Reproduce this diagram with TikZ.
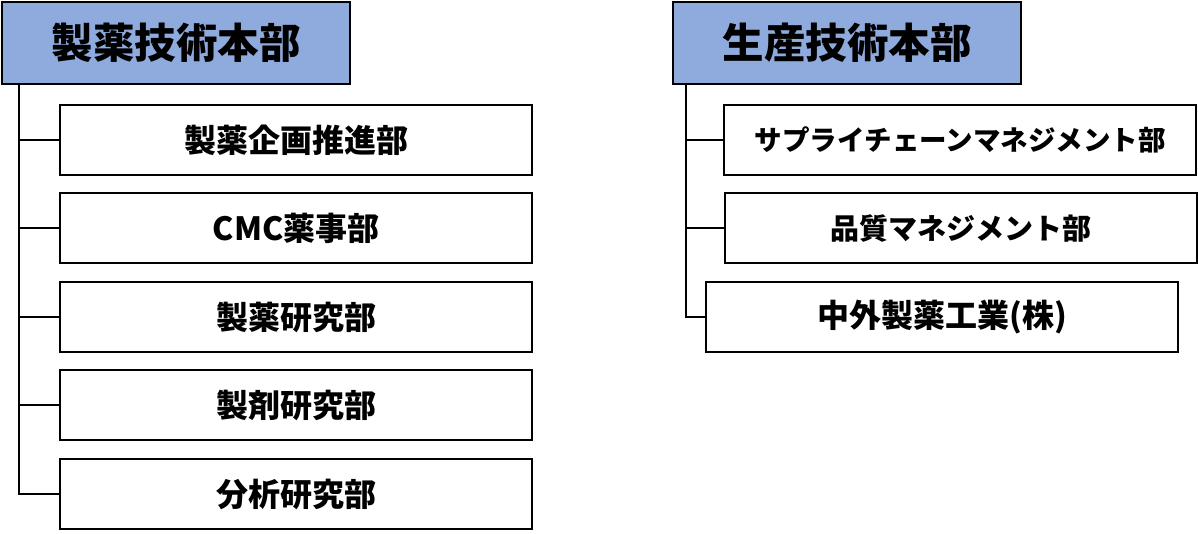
\documentclass[tikz,border=0pt]{standalone}
\usepackage{fontspec}
\newfontfamily\jp{Noto Sans CJK JP}[BoldFont={Noto Sans CJK JP Black}]
\definecolor{headblue}{HTML}{8FAADC}
\begin{document}
\begin{tikzpicture}[x=1pt,y=-1pt,
  box/.style={draw=black, line width=2.4pt, rectangle, inner sep=0pt, anchor=north west, font=\jp\bfseries\fontsize{32}{36}\selectfont},
  headbox/.style={box, fill=headblue, minimum width=348pt, minimum height=82pt, font=\jp\bfseries\fontsize{41.5}{46}\selectfont},
  subbox/.style={box, fill=white, minimum width=472pt, minimum height=70pt},
  conn/.style={draw=black, line width=2pt}]
\useasboundingbox (0,0) rectangle (1198,534);
% left column
\node[headbox] (lh) at (1,1) {製薬技術本部};
\coordinate (lt) at (19,83);
\node[subbox] (l1) at (59,104) {製薬企画推進部};
\node[subbox] (l2) at (59,192) {CMC薬事部};
\node[subbox] (l3) at (59,281) {製薬研究部};
\node[subbox] (l4) at (59,369) {製剤研究部};
\node[subbox] (l5) at (59,458) {分析研究部};
\foreach \n in {l1,l2,l3,l4,l5} {\draw[conn] (lt) |- (\n.west);}
% right column
\node[headbox] (rh) at (672,1) {生産技術本部};
\coordinate (rt) at (686,83);
\node[subbox] (r1) at (723,104) {\fontsize{27.5}{30}\selectfont サプライチェーンマネジメント部};
\node[subbox] (r2) at (724,192) {\fontsize{29}{32}\selectfont 品質マネジメント部};
\node[subbox] (r3) at (705,281) {中外製薬工業(株)};
\foreach \n in {r1,r2,r3} {\draw[conn] (rt) |- (\n.west);}
\end{tikzpicture}
\end{document}
